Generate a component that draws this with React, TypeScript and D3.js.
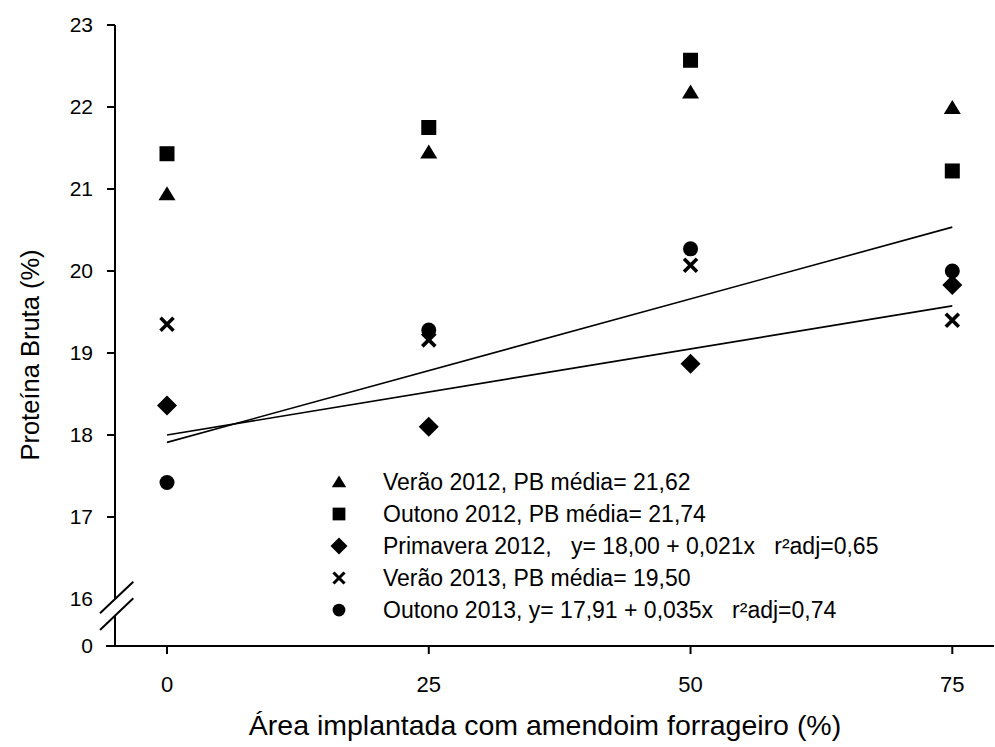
import React from "react";
import * as d3 from "d3";

const xValues = [0, 25, 50, 75];
const verao2012 = [20.94, 21.45, 22.18, 21.99];
const outono2012 = [21.43, 21.75, 22.57, 21.22];
const primavera2012 = [18.36, 18.1, 18.87, 19.83];
const verao2013 = [19.35, 19.16, 20.07, 19.4];
const outono2013 = [17.42, 19.28, 20.27, 20.0];

const xTicks = [0, 25, 50, 75];
const yTicks = [17, 18, 19, 20, 21, 22, 23];

const fitPrimavera = { a: 18.0, b: 0.021 };
const fitOutono2013 = { a: 17.91, b: 0.035 };

const legendLabels = [
  "Verão 2012, PB média= 21,62",
  "Outono 2012, PB média= 21,74",
  "Primavera 2012,   y= 18,00 + 0,021x   r²adj=0,65",
  "Verão 2013, PB média= 19,50",
  "Outono 2013, y= 17,91 + 0,035x   r²adj=0,74",
];

type Shape = "triangle" | "square" | "diamond" | "cross" | "circle";

const series: { values: number[]; shape: Shape }[] = [
  { values: verao2012, shape: "triangle" },
  { values: outono2012, shape: "square" },
  { values: primavera2012, shape: "diamond" },
  { values: verao2013, shape: "cross" },
  { values: outono2013, shape: "circle" },
];

const FONT = "'Liberation Sans', Arial, sans-serif";

function Marker({ shape, cx, cy, k = 1 }: { shape: Shape; cx: number; cy: number; k?: number }) {
  if (shape === "triangle") {
    const w = 8.5 * k, h = 14 * k;
    const p = d3.path();
    p.moveTo(cx, cy - h * 0.55);
    p.lineTo(cx + w, cy + h * 0.45);
    p.lineTo(cx - w, cy + h * 0.45);
    p.closePath();
    return <path d={p.toString()} fill="#000" />;
  }
  if (shape === "square") {
    const s = 7.5 * k;
    return <rect x={cx - s} y={cy - s} width={2 * s} height={2 * s} fill="#000" />;
  }
  if (shape === "diamond") {
    const s = 10 * k;
    const p = d3.path();
    p.moveTo(cx, cy - s);
    p.lineTo(cx + s, cy);
    p.lineTo(cx, cy + s);
    p.lineTo(cx - s, cy);
    p.closePath();
    return <path d={p.toString()} fill="#000" />;
  }
  if (shape === "cross") {
    const s = 6.5 * k;
    return (
      <g stroke="#000" strokeWidth={3.6 * k}>
        <line x1={cx - s} y1={cy - s} x2={cx + s} y2={cy + s} />
        <line x1={cx - s} y1={cy + s} x2={cx + s} y2={cy - s} />
      </g>
    );
  }
  return <circle cx={cx} cy={cy} r={7.5 * k} fill="#000" />;
}

export default function App() {
  const width = 995;
  const height = 747;
  const axisX = 115;
  const baseY = 646;
  const x = d3.scaleLinear().domain([0, 75]).range([167, 952.3]);
  const y = d3.scaleLinear().domain([16, 23]).range([599, 25]);

  const line = d3
    .line<number[]>()
    .x((d) => x(d[0]))
    .y((d) => y(d[1]));

  const fitLine = (f: { a: number; b: number }) =>
    line([0, 75].map((v) => [v, f.a + f.b * v]));

  const legendX = 339;
  const legendTextX = 383;
  const legendY0 = 482;
  const legendDy = 32;

  return (
    <svg width={width} height={height} style={{ display: "block", position: "absolute", left: 0, top: 0 }}
      fontFamily={FONT}>
      <rect width={width} height={height} fill="#fff" />
      {/* y axis with break */}
      <line x1={axisX} y1={y(23)} x2={axisX} y2={599} stroke="#000" strokeWidth={2} />
      <line x1={axisX} y1={615.5} x2={axisX} y2={baseY} stroke="#000" strokeWidth={2} />
      <line x1={100} y1={613.3} x2={133.3} y2={581.7} stroke="#000" strokeWidth={2} />
      <line x1={100} y1={630} x2={133.3} y2={598.3} stroke="#000" strokeWidth={2} />
      {yTicks.map((t) => (
        <g key={t}>
          <line x1={axisX - 8} x2={axisX} y1={y(t)} y2={y(t)} stroke="#000" strokeWidth={2} />
          <text x={93} y={y(t)} dy="0.35em" textAnchor="end" fontSize={21}>{t}</text>
        </g>
      ))}
      <text x={93} y={y(16)} dy="0.35em" textAnchor="end" fontSize={21}>16</text>
      <text x={93} y={baseY} dy="0.35em" textAnchor="end" fontSize={21}>0</text>
      {/* x axis */}
      <line x1={106} x2={994} y1={baseY} y2={baseY} stroke="#000" strokeWidth={2} />
      {xTicks.map((t) => (
        <g key={t}>
          <line x1={x(t)} x2={x(t)} y1={baseY} y2={baseY + 8} stroke="#000" strokeWidth={2} />
          <text x={x(t)} y={684} dy="0.35em" textAnchor="middle" fontSize={22}>{t}</text>
        </g>
      ))}
      <text x={545} y={725} dy="0.35em" textAnchor="middle" fontSize={28.5}>
        Área implantada com amendoim forrageiro (%)
      </text>
      <text transform={`translate(30,${355}) rotate(-90)`} dy="0.35em" textAnchor="middle" fontSize={25.5}>
        Proteína Bruta (%)
      </text>
      {/* regression lines */}
      <path d={fitLine(fitPrimavera) || ""} fill="none" stroke="#000" strokeWidth={1.6} />
      <path d={fitLine(fitOutono2013) || ""} fill="none" stroke="#000" strokeWidth={1.6} />
      {/* points */}
      {series.map((s, i) => (
        <g key={i}>
          {s.values.map((v, j) => (
            <Marker key={j} shape={s.shape} cx={x(xValues[j])} cy={y(v)} />
          ))}
        </g>
      ))}
      {/* legend */}
      {series.map((s, i) => (
        <g key={"l" + i}>
          <Marker shape={s.shape} cx={legendX} cy={legendY0 + i * legendDy} k={0.85} />
          <text x={legendTextX} y={legendY0 + i * legendDy} dy="0.35em" fontSize={23}
            style={{ whiteSpace: "pre" }}>
            {legendLabels[i]}
          </text>
        </g>
      ))}
    </svg>
  );
}
